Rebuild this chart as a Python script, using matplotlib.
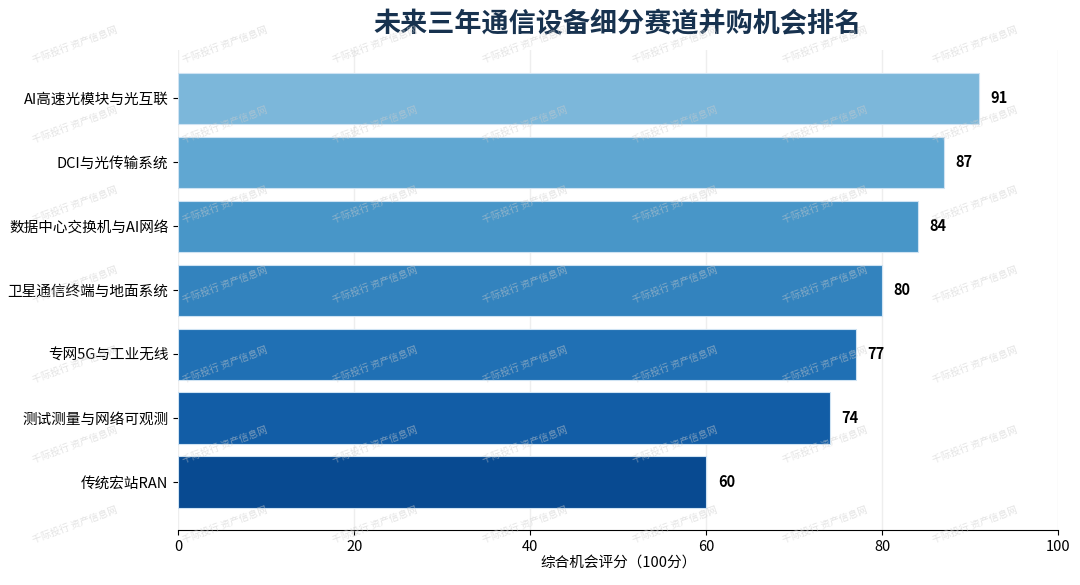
import numpy as np
import matplotlib.pyplot as plt

plt.rcParams['font.family'] = ['Noto Sans CJK SC', 'DejaVu Sans']

categories = ['AI高速光模块与光互联', 'DCI与光传输系统', '数据中心交换机与AI网络',
              '卫星通信终端与地面系统', '专网5G与工业无线', '测试测量与网络可观测', '传统宏站RAN']
scores = [91, 87, 84, 80, 77, 74, 60]
x_ticks = [0, 20, 40, 60, 80, 100]

fig = plt.figure(figsize=(10.8, 5.85), dpi=100)
ax = fig.add_axes([0.165, 0.094, 0.815, 0.82])

colors = plt.cm.Blues(np.linspace(0.46, 0.9, len(scores)))
y = np.arange(len(categories))
bars = ax.barh(y, scores, height=0.8, color=colors, edgecolor='#cfe3f3', linewidth=0.8, zorder=2)
for b, v in zip(bars, scores):
    ax.text(v + 1.3, b.get_y() + b.get_height() / 2, str(v), va='center', ha='left',
            fontsize=10.5, fontweight='bold', color='black', zorder=3)

ax.set_yticks(y)
ax.set_yticklabels(categories, fontsize=10.5)
ax.invert_yaxis()
ax.set_ylim(len(categories) - 0.25, -0.75)
ax.set_xlim(0, 100)
ax.set_xticks(x_ticks)
ax.tick_params(axis='x', labelsize=10.5)
ax.set_xlabel('综合机会评分（100分）', fontsize=10.5, labelpad=1)
ax.grid(axis='x', color='#eeeeee', linewidth=1, zorder=0)
ax.set_axisbelow(True)
for s in ['top', 'right', 'left']:
    ax.spines[s].set_visible(False)
ax.spines['bottom'].set_color('black')

fig.text(0.572, 0.958, '未来三年通信设备细分赛道并购机会排名', ha='center', va='center',
         fontsize=19.5, fontweight='bold', color='#17324f')

# watermark
for yy in np.arange(45, 585, 80):
    for xx in np.arange(75, 1080, 150):
        fig.text(xx / 1080, 1 - yy / 585, '千际投行 资产信息网', ha='center', va='center',
                 fontsize=7, color='#cccccc', alpha=0.55, rotation=20, zorder=10)

fig.savefig('out.png', dpi=100)
